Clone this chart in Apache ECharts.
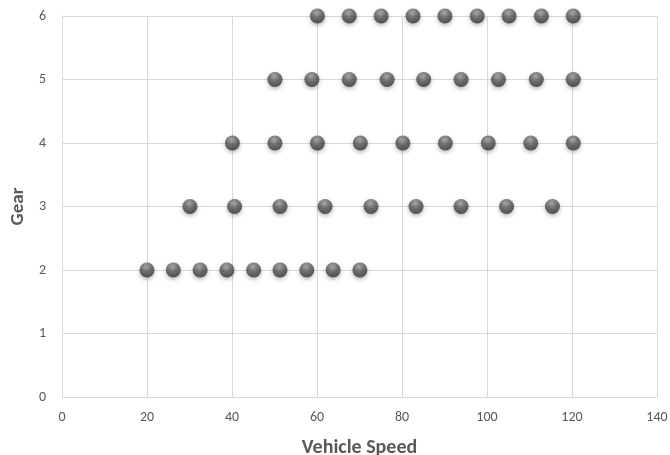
<!DOCTYPE html>
<html>
<head>
<meta charset="utf-8">
<script src="https://cdn.jsdelivr.net/npm/echarts@6/dist/echarts.min.js"></script>
<style>
  html, body { margin: 0; padding: 0; background: #fff; }
  #chart { width: 670px; height: 455px; }
</style>
</head>
<body>
<div id="chart"></div>
<script>
// Shift points: vehicle speed at which each gear is engaged
const gear2Speeds = [20, 26.2, 32.5, 38.8, 45.1, 51.3, 57.6, 63.8, 70.1];
const gear3Speeds = [30.1, 40.6, 51.3, 61.9, 72.7, 83.3, 93.9, 104.6, 115.4];
const gear4Speeds = [40.1, 50.1, 60.1, 70.2, 80.2, 90.2, 100.3, 110.3, 120.3];
const gear5Speeds = [50.1, 58.8, 67.6, 76.5, 85.1, 93.9, 102.7, 111.6, 120.3];
const gear6Speeds = [60.1, 67.6, 75.1, 82.6, 90.1, 97.7, 105.2, 112.8, 120.3];
const gears = [2, 3, 4, 5, 6];
const xTicks = [0, 20, 40, 60, 80, 100, 120, 140];
const yTicks = [0, 1, 2, 3, 4, 5, 6];

const speedsByGear = [gear2Speeds, gear3Speeds, gear4Speeds, gear5Speeds, gear6Speeds];
const points = [];
speedsByGear.forEach((speeds, i) => {
  speeds.forEach(s => points.push([s, gears[i]]));
});

const labelFont = 'Carlito, Lato, "Open Sans", sans-serif';
const gridColor = '#d9d9d9';
const textColor = '#595959';

const chart = echarts.init(document.getElementById('chart'), null, { renderer: 'canvas' });
chart.setOption({
  animation: false,
  backgroundColor: '#ffffff',
  // fixed plot rectangle; the axis title is allowed to run past the bottom edge
  grid: { left: 62, right: 13, top: 16, bottom: 58, containLabel: false, outerBoundsMode: 'none' },
  xAxis: {
    type: 'value',
    min: xTicks[0],
    max: xTicks[xTicks.length - 1],
    interval: 20,
    name: 'Vehicle Speed',
    nameLocation: 'middle',
    nameGap: 41,
    nameTextStyle: { fontFamily: labelFont, fontWeight: 'bold', fontSize: 20, color: textColor },
    axisLine: { show: true, lineStyle: { color: gridColor, width: 1 } },
    axisTick: { show: false },
    axisLabel: { color: textColor, fontFamily: labelFont, fontSize: 14, margin: 13 },
    splitLine: { show: true, lineStyle: { color: gridColor, width: 1 } }
  },
  yAxis: {
    type: 'value',
    min: yTicks[0],
    max: yTicks[yTicks.length - 1],
    interval: 1,
    name: 'Gear',
    nameLocation: 'middle',
    nameGap: 31,
    nameRotate: 90,
    nameTextStyle: { fontFamily: labelFont, fontWeight: 'bold', fontSize: 19, color: textColor },
    axisLine: { show: true, lineStyle: { color: gridColor, width: 1 } },
    axisTick: { show: false },
    axisLabel: { color: textColor, fontFamily: labelFont, fontSize: 14, margin: 16 },
    splitLine: { show: true, lineStyle: { color: gridColor, width: 1 } }
  },
  series: [{
    type: 'scatter',
    data: points,
    symbol: 'circle',
    symbolSize: 15,
    itemStyle: {
      color: {
        type: 'radial', x: 0.45, y: 0.3, r: 0.75,
        colorStops: [
          { offset: 0, color: '#9e9e9e' },
          { offset: 0.45, color: '#5a5a5a' },
          { offset: 1, color: '#2e2e2e' }
        ]
      },
      shadowBlur: 4,
      shadowOffsetX: 0,
      shadowOffsetY: 2,
      shadowColor: 'rgba(0,0,0,0.35)'
    }
  }]
});
</script>
</body>
</html>
